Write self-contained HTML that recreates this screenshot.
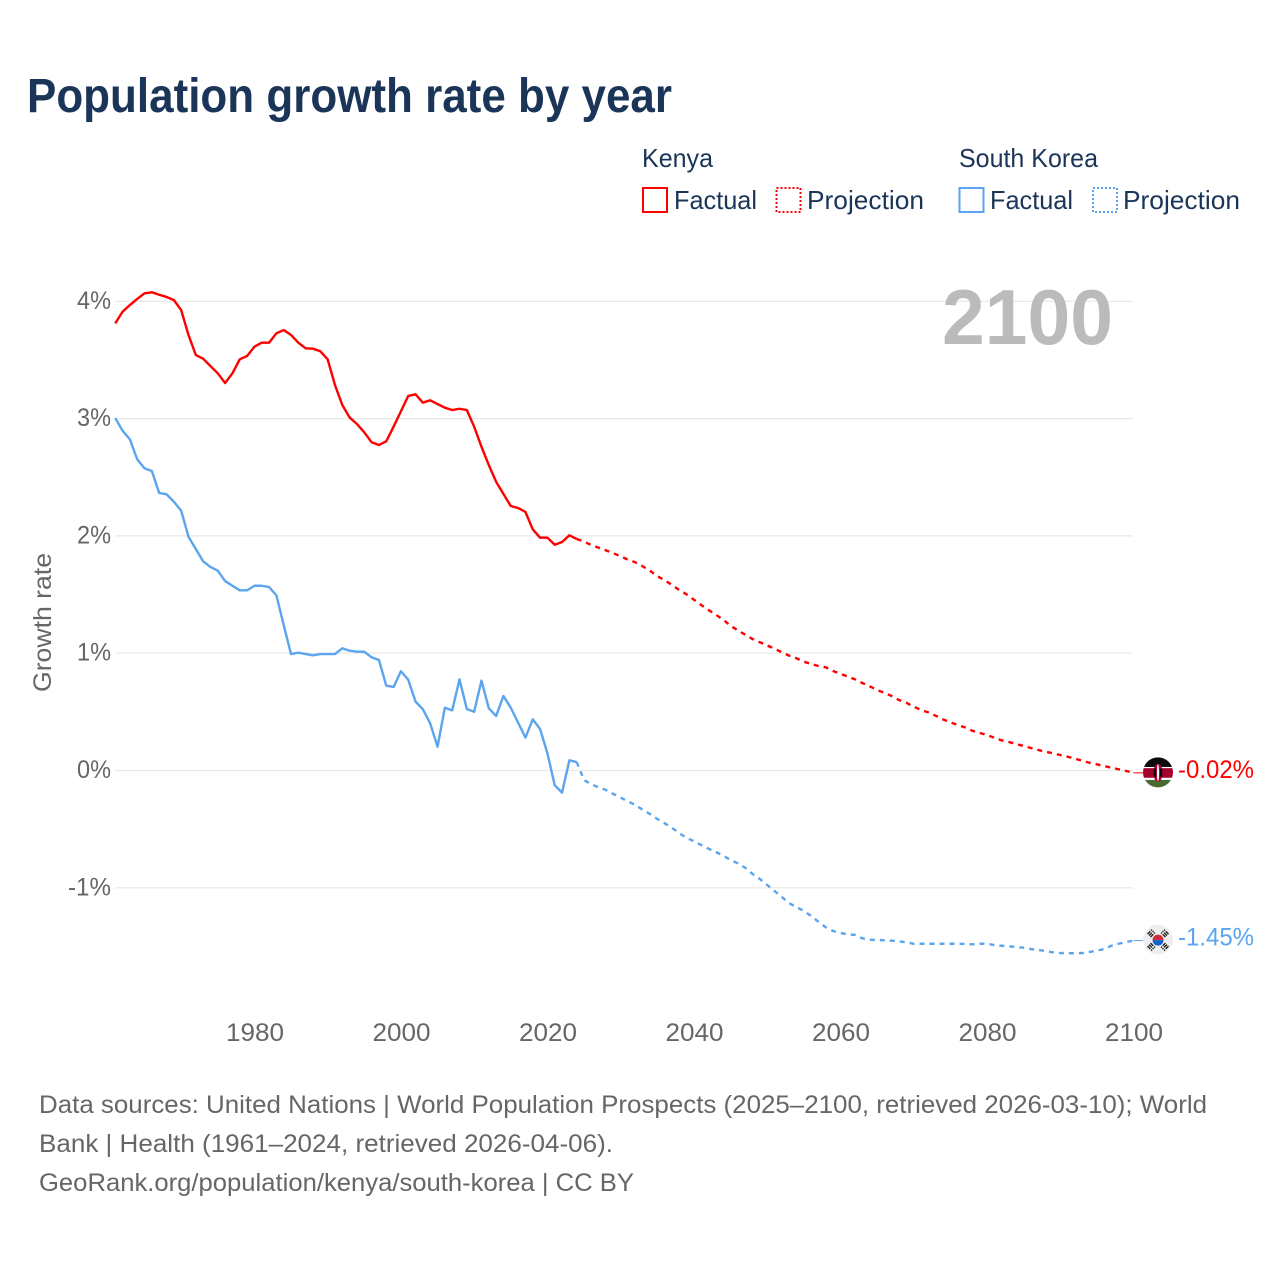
<!DOCTYPE html>
<html lang="en">
<head>
<meta charset="utf-8">
<title>Population growth rate by year</title>
<style>
html,body{margin:0;padding:0;background:#fff;}
svg{display:block;font-family:"Liberation Sans",sans-serif;}
.navy{fill:#1a3557;font-size:26px;}
.grey{fill:#666;font-size:25px;}
</style>
</head>
<body>
<svg id="chart" width="1280" height="1280" viewBox="0 0 1280 1280" xmlns="http://www.w3.org/2000/svg">
  <defs>
    <clipPath id="flag-clip"><circle cx="0" cy="0" r="15"/></clipPath>
  </defs>
  <text x="27" y="112" font-size="48" font-weight="700" fill="#1a3557" textLength="645" lengthAdjust="spacingAndGlyphs">Population growth rate by year</text>

  <g>
    <text class="navy" x="642" y="167" textLength="71" lengthAdjust="spacingAndGlyphs">Kenya</text>
    <g>
      <rect x="643" y="188" width="24" height="24" fill="none" stroke="#ff0000" stroke-width="2"/>
      <text class="navy" x="674" y="209" textLength="83" lengthAdjust="spacingAndGlyphs">Factual</text>
    </g>
    <g>
      <rect x="776.5" y="188" width="24" height="24" fill="none" stroke="#ff0000" stroke-width="2" stroke-dasharray="2 2"/>
      <text class="navy" x="807" y="209" textLength="117" lengthAdjust="spacingAndGlyphs">Projection</text>
    </g>
    <text class="navy" x="959" y="167" textLength="139" lengthAdjust="spacingAndGlyphs">South Korea</text>
    <g>
      <rect x="959.5" y="188" width="24" height="24" fill="none" stroke="#5ba4ee" stroke-width="2"/>
      <text class="navy" x="990" y="209" textLength="83" lengthAdjust="spacingAndGlyphs">Factual</text>
    </g>
    <g>
      <rect x="1093" y="188" width="24" height="24" fill="none" stroke="#5ba4ee" stroke-width="2" stroke-dasharray="2 2"/>
      <text class="navy" x="1123" y="209" textLength="117" lengthAdjust="spacingAndGlyphs">Projection</text>
    </g>
  </g>

  <g id="grid"></g>
  <text x="942" y="344" font-size="78" font-weight="700" fill="#bbbbbb" textLength="171" lengthAdjust="spacingAndGlyphs">2100</text>
  <g id="y-ticks"></g>
  <g id="x-ticks"></g>
  <text class="grey" transform="translate(51,622.5) rotate(-90)" text-anchor="middle" textLength="139" lengthAdjust="spacingAndGlyphs">Growth rate</text>

  <g id="series"></g>

  <g id="flag-kenya">
    <g clip-path="url(#flag-clip)">
      <rect x="-15" y="-15" width="30" height="30" fill="#ffffff"/>
      <rect x="-15" y="-15" width="30" height="9.6" fill="#0c0c0c"/>
      <rect x="-15" y="-4.2" width="30" height="9.6" fill="#a6002c"/>
      <rect x="-15" y="7.6" width="30" height="8" fill="#4a6b2f"/>
      <ellipse cx="0" cy="0.4" rx="4.6" ry="9" fill="#a6002c"/>
      <rect x="-4.2" y="-3.6" width="2.2" height="8" fill="#0c0c0c"/>
      <rect x="2" y="-3.6" width="2.2" height="8" fill="#0c0c0c"/>
      <ellipse cx="0" cy="0.4" rx="1.1" ry="8.5" fill="#ffffff"/>
    </g>
  </g>
  <g id="flag-korea">
    <g clip-path="url(#flag-clip)">
      <rect x="-15" y="-15" width="30" height="30" fill="#eeeeee"/>
      <path d="M-5.5 0.5A5.5 5.5 0 0 1 5.5 0.5Z" fill="#cd2e3a"/>
      <path d="M-5.5 0.5A5.5 5.5 0 0 0 5.500 0.5Z" fill="#0f64cd"/>
      <g stroke="#222" stroke-width="1.4" fill="none" stroke-dasharray="4 1">
        <path d="M-10.5 -5.5L-6 -10M-9 -4L-4.500 -8.500M-7.500 -2.500L-3 -7"/>
        <path d="M10.500 -5.500L6 -10M9 -4L4.500 -8.500M7.500 -2.500L3 -7"/>
        <path d="M-10.500 6.500L-6 11M-9 5L-4.500 9.500M-7.500 3.500L-3 8"/>
        <path d="M10.500 6.500L6 11M9 5L4.500 9.500M7.500 3.500L3 8"/>
      </g>
    </g>
  </g>

  <g>
    <text class="grey" x="39" y="1113" textLength="1168" lengthAdjust="spacingAndGlyphs">Data sources: United Nations | World Population Prospects (2025–2100, retrieved 2026-03-10); World</text>
    <text class="grey" x="39" y="1152" textLength="574" lengthAdjust="spacingAndGlyphs">Bank | Health (1961–2024, retrieved 2026-04-06).</text>
    <text class="grey" x="39" y="1191" textLength="595" lengthAdjust="spacingAndGlyphs">GeoRank.org/population/kenya/south-korea | CC BY</text>
  </g>
</svg>

<script>
const factualStartYear = 1961;
const projectionStartYear = 2025;
const yTickValues = [4, 3, 2, 1, 0, -1];
const yTickLabels = ["4%", "3%", "2%", "1%", "0%", "-1%"];
const xTickValues = [1980, 2000, 2020, 2040, 2060, 2080, 2100];

const kenyaFactual = [3.812,3.911,3.968,4.020,4.068,4.077,4.056,4.037,4.011,3.926,3.713,3.542,3.511,3.448,3.386,3.303,3.386,3.505,3.534,3.613,3.647,3.647,3.727,3.755,3.713,3.647,3.599,3.596,3.574,3.505,3.286,3.116,3.009,2.954,2.883,2.798,2.775,2.806,2.931,3.062,3.193,3.207,3.136,3.156,3.124,3.093,3.073,3.084,3.073,2.931,2.760,2.604,2.462,2.357,2.255,2.238,2.204,2.056,1.985,1.985,1.925,1.948,2.005,1.974];
const kenyaProjection = [1.951,1.922,1.899,1.877,1.852,1.826,1.797,1.775,1.741,1.703,1.656,1.624,1.581,1.539,1.502,1.456,1.411,1.368,1.328,1.286,1.234,1.195,1.158,1.121,1.093,1.067,1.038,1.008,0.979,0.957,0.928,0.908,0.891,0.880,0.848,0.825,0.800,0.777,0.746,0.718,0.686,0.663,0.635,0.601,0.578,0.544,0.516,0.496,0.467,0.436,0.411,0.388,0.368,0.339,0.320,0.303,0.280,0.257,0.243,0.226,0.209,0.192,0.175,0.160,0.147,0.132,0.118,0.101,0.084,0.066,0.053,0.038,0.024,0.010,-0.004,-0.02];
const koreaFactual = [3.005,2.897,2.823,2.653,2.576,2.553,2.366,2.355,2.292,2.215,1.993,1.888,1.783,1.735,1.703,1.615,1.575,1.536,1.536,1.575,1.575,1.564,1.494,1.240,0.993,1.004,0.993,0.982,0.993,0.993,0.993,1.042,1.021,1.013,1.013,0.965,0.942,0.723,0.712,0.846,0.774,0.587,0.522,0.402,0.203,0.535,0.513,0.777,0.524,0.501,0.766,0.530,0.465,0.635,0.535,0.408,0.280,0.436,0.354,0.147,-0.126,-0.189,0.087,0.072];
const koreaProjection = [-0.081,-0.118,-0.143,-0.166,-0.200,-0.232,-0.263,-0.294,-0.334,-0.371,-0.413,-0.450,-0.488,-0.535,-0.573,-0.604,-0.635,-0.667,-0.695,-0.726,-0.763,-0.791,-0.829,-0.882,-0.925,-0.976,-1.027,-1.078,-1.132,-1.164,-1.198,-1.240,-1.289,-1.337,-1.368,-1.385,-1.396,-1.402,-1.431,-1.442,-1.445,-1.448,-1.451,-1.456,-1.465,-1.477,-1.477,-1.477,-1.477,-1.477,-1.477,-1.477,-1.479,-1.482,-1.477,-1.477,-1.488,-1.494,-1.499,-1.505,-1.511,-1.522,-1.530,-1.539,-1.550,-1.556,-1.558,-1.558,-1.556,-1.547,-1.536,-1.522,-1.494,-1.477,-1.462,-1.45];

const NS = "http://www.w3.org/2000/svg";
const RED = "#ff0000";
const BLUE = "#5ba4ee";
function xScale(year) { return 254.4 + (year - 1980) * 7.325; }
function yScale(value) { return 770.5 - value * 117.3; }

function make(parent, tag, attrs, text) {
  const el = document.createElementNS(NS, tag);
  for (const k in attrs) el.setAttribute(k, attrs[k]);
  if (text !== undefined) el.textContent = text;
  parent.appendChild(el);
  return el;
}
function linePath(values, startYear) {
  return values.map(function (v, i) {
    return (i ? "L" : "M") + xScale(startYear + i).toFixed(2) + " " + yScale(v).toFixed(2);
  }).join("");
}

const grid = document.getElementById("grid");
const yTicks = document.getElementById("y-ticks");
yTickValues.forEach(function (v, i) {
  const line = make(grid, "line", { x1: 115, x2: 1133, y1: yScale(v), y2: yScale(v), stroke: "#e8e8e8", "stroke-width": 1.2 });
  
  
  const label = make(yTicks, "text", { class: "grey", x: 111, y: yScale(v) + 7.5, "text-anchor": "end", textLength: yTickLabels[i].length > 2 ? 43 : 34, lengthAdjust: "spacingAndGlyphs" }, yTickLabels[i]);
  
  
});

const xTicks = document.getElementById("x-ticks");
xTickValues.forEach(function (year) {
  const label = make(xTicks, "text", { class: "grey", x: xScale(year) + 0.6, y: 1041, "text-anchor": "middle", textLength: 58, lengthAdjust: "spacingAndGlyphs" }, String(year));
  
  
});

const series = document.getElementById("series");
function drawSeries(factual, projection, color, key) {
  const last = factual[factual.length - 1];
  const solid = make(series, "path", { d: linePath(factual, factualStartYear), fill: "none", stroke: color, "stroke-width": 2.4, "stroke-linejoin": "round" });
  
  
  const dashed = make(series, "path", { d: linePath([last].concat(projection), projectionStartYear - 1), fill: "none", stroke: color, "stroke-width": 2.4, "stroke-dasharray": "5 5" });
  
  
  const endValue = projection[projection.length - 1];
  const endY = yScale(endValue);
  const leader = make(series, "line", { x1: xScale(2100), x2: 1143, y1: endY, y2: endY, stroke: color, "stroke-width": 1 });
  
  
  const endLabel = make(series, "text", { x: 1178, y: endY + 5, fill: color, "font-size": 25, textLength: 76, lengthAdjust: "spacingAndGlyphs" }, endValue.toFixed(2) + "%");
  
  
  return endY;
}
const kenyaEndY = drawSeries(kenyaFactual, kenyaProjection, RED, "kenya");
const koreaEndY = drawSeries(koreaFactual, koreaProjection, BLUE, "south-korea");
document.getElementById("flag-kenya").setAttribute("transform", "translate(1158," + (kenyaEndY - 0.5) + ")");
document.getElementById("flag-korea").setAttribute("transform", "translate(1158," + (koreaEndY - 1) + ")");
</script>
</body>
</html>
